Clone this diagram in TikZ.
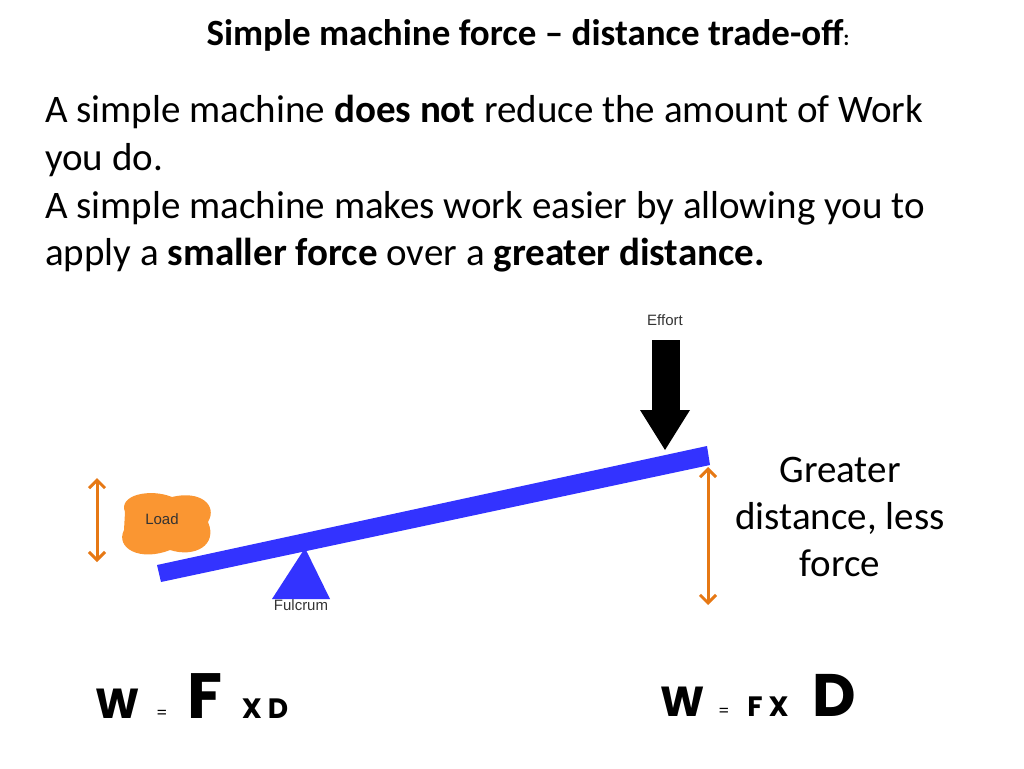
\documentclass[tikz,border=0pt]{standalone}
\usepackage{fontspec}
\setmainfont{Carlito}
\newfontfamily\arialf{Liberation Sans}
\newfontfamily\heavy{Poppins}
\usetikzlibrary{arrows.meta}
\definecolor{lever}{RGB}{51,51,255}
\definecolor{oran}{RGB}{230,120,20}
\definecolor{loadc}{RGB}{250,150,50}
\begin{document}
\begin{tikzpicture}[x=1pt,y=-1pt,
  body/.style={anchor=west,font=\fontsize{39}{46}\selectfont,inner sep=0},
  small/.style={font=\arialf\fontsize{15}{17}\selectfont,text=black!80},
  darr/.style={draw=oran,line width=3pt,{Straight Barb[length=8pt,width=16pt]}-{Straight Barb[length=8pt,width=16pt]}},
  frm/.style={font=\heavy\bfseries,inner sep=0,anchor=base}]
\useasboundingbox (0,0) rectangle (1024,768);
\node (title) at (528,35) {\fontsize{37}{40}\selectfont\bfseries Simple machine force -- distance trade-off\fontsize{22}{24}\selectfont:};
\node[body] (l1) at (45,112) {A simple machine \textbf{does not} reduce the amount of Work};
\node[body] (l2) at (45,160) {you do.};
\node[body] (l3) at (45,208) {A simple machine makes work easier by allowing you to};
\node[body] (l4) at (45,255) {apply a \textbf{smaller force} over a \textbf{greater distance.}};
% load
\fill[loadc] (125,512) .. controls (118,495) and (150,488) .. (172,497)
  .. controls (200,490) and (218,505) .. (208,522)
  .. controls (218,545) and (195,558) .. (170,550)
  .. controls (140,562) and (115,548) .. (124,530) -- cycle;
\node[small] (load) at (162,519) {Load};
% lever
\fill[lever] (157,565) -- (707,446) -- (710,465) -- (161,582) -- cycle;
\fill[lever] (305,548) -- (330,599) -- (272,599) -- cycle;
\node[small] (fulc) at (301,605) {Fulcrum};
% effort
\node[small] (eff) at (665,320) {Effort};
\fill[black] (652,340) rectangle (680,412);
\fill[black] (640,410) -- (690,410) -- (665,450) -- cycle;
% arrows
\coordinate (a1) at (97,478); \coordinate (a2) at (97,562);
\coordinate (b1) at (708,467); \coordinate (b2) at (708,605);
\draw[darr] (a1) -- (a2);
\draw[darr] (b1) -- (b2);
\node[align=center,font=\fontsize{39}{47}\selectfont] (gd) at (840,517) {Greater\\distance, less\\force};
% formulas
\node[frm,font=\heavy\bfseries\fontsize{42}{44}\selectfont] (w1) at (118,718) {W};
\node[frm,font=\heavy\fontsize{16}{18}\selectfont] (e1) at (162,718) {=};
\node[frm,font=\heavy\bfseries\fontsize{64}{66}\selectfont] (f1) at (205,718) {F};
\node[frm,font=\heavy\bfseries\fontsize{28}{30}\selectfont] (x1) at (265,718) {X D};
\node[frm,font=\heavy\bfseries\fontsize{42}{44}\selectfont] (w2) at (683,716) {W};
\node[frm,font=\heavy\fontsize{16}{18}\selectfont] (e2) at (724,716) {=};
\node[frm,font=\heavy\bfseries\fontsize{28}{30}\selectfont] (x2) at (768,716) {F X};
\node[frm,font=\heavy\bfseries\fontsize{60}{62}\selectfont] (d2) at (834,716) {D};
\end{tikzpicture}
\end{document}
